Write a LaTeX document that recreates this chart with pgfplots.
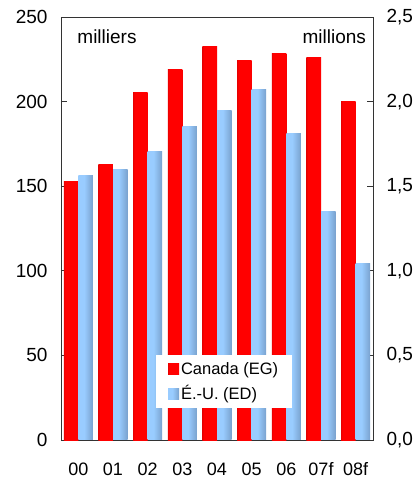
\documentclass[border=0pt]{standalone}
\usepackage{fontspec}
\setmainfont{Liberation Sans}
\usepackage{pgfplots}
\pgfplotsset{compat=1.18}
\definecolor{rdark}{HTML}{800000}
\definecolor{rdark2}{HTML}{A80000}
\definecolor{rmain}{HTML}{FF0000}
\definecolor{blight}{HTML}{99CCFF}
\definecolor{bedge}{HTML}{80A8D4}
\definecolor{bdark}{HTML}{5E7EA4}
\definecolor{axgray}{HTML}{333333}
\pgfdeclarehorizontalshading{redbar}{100bp}{color(0bp)=(rdark); color(30bp)=(rmain); color(72bp)=(rmain); color(100bp)=(rdark2)}
\pgfdeclarehorizontalshading{bluebar}{100bp}{color(0bp)=(bedge); color(15bp)=(blight); color(45bp)=(blight); color(100bp)=(bdark)}
\pgfplotsset{sqlegend/.style={legend image code/.code={\path[##1] (0pt,-5.5pt) rectangle (11pt,5.5pt);}}}
\newcommand\rb[2]{\addplot[shading=redbar, draw=none, bar shift=-0.21, forget plot] coordinates {(#1,#2)};}
\newcommand\bb[2]{\addplot[shading=bluebar, draw=none, bar shift=0.21, forget plot] coordinates {(#1,#2)};}
\begin{document}
\begin{tikzpicture}[font=\fontsize{19}{23}\selectfont]
\path[use as bounding box] (-61pt,-41pt) rectangle (358pt,440pt);
\begin{axis}[
  at={(0,0)}, anchor=south west,
  scale only axis, width=312pt, height=423pt,
  xmin=-0.5, xmax=8.5, ymin=0, ymax=250,
  xtick={0,...,8},
  xticklabels={00,01,02,03,04,05,06,07f,08f},
  xtick style={draw=none},
  xticklabel style={font=\fontsize{18}{22}\selectfont},
  xticklabel shift=13pt,
  ytick={0,50,...,250},
  ytick pos=left,
  yticklabel shift=10pt,
  major tick length=6pt,
  tick style={axgray, line width=0.8pt},
  axis line style={axgray, line width=0.8pt},
  /pgf/number format/assume math mode=true,
  ybar, bar width=0.42,
]
% Canada (milliers)
\rb{0}{153}
\rb{1}{163}
\rb{2}{205.5}
\rb{3}{219}
\rb{4}{232.7}
\rb{5}{224}
\rb{6}{228.5}
\rb{7}{226}
\rb{8}{200}
\node[anchor=base west, inner sep=0pt] at (rel axis cs:0.052,0.9385) {milliers};
\node[anchor=base east, inner sep=0pt] at (rel axis cs:0.978,0.9385) {millions};
\end{axis}
\begin{axis}[
  at={(0,0)}, anchor=south west,
  scale only axis, width=312pt, height=423pt,
  xmin=-0.5, xmax=8.5, ymin=0, ymax=2.5,
  hide x axis,
  axis y line*=right,
  ytick={0,0.5,...,2.5},
  yticklabel shift=10pt,
  major tick length=6pt,
  tick style={axgray, line width=0.8pt},
  axis line style={axgray, line width=0.8pt},
  /pgf/number format/.cd, use comma, fixed, fixed zerofill, precision=1, assume math mode=true,
  /pgfplots/.cd,
  ybar, bar width=0.42,
  legend style={at={(rel axis cs:0.304,0.201)}, anchor=north west, draw=none, fill=white,
    font=\fontsize{16.5}{20}\selectfont,
    inner xsep=12pt, inner ysep=5pt, row sep=6pt},
  legend cell align=left,
]
% E.-U. (millions)
\bb{0}{1.565}
\bb{1}{1.60}
\bb{2}{1.705}
\bb{3}{1.855}
\bb{4}{1.95}
\bb{5}{2.07}
\bb{6}{1.81}
\bb{7}{1.35}
\bb{8}{1.045}
\addlegendimage{shading=redbar, draw=none, sqlegend}
\addlegendentry{Canada (EG)}
\addlegendimage{shading=bluebar, draw=none, sqlegend}
\addlegendentry{É.-U. (ED)}
\end{axis}
\end{tikzpicture}
\end{document}
